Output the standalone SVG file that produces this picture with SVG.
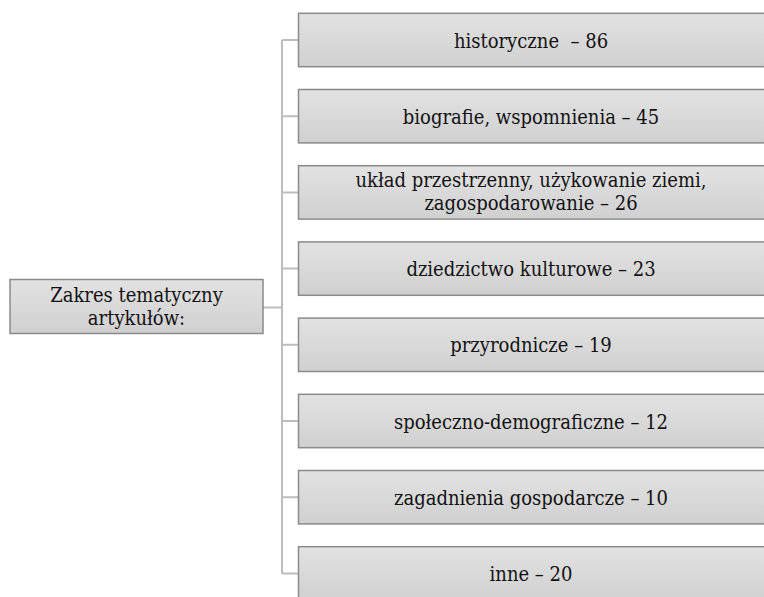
<svg xmlns="http://www.w3.org/2000/svg" width="764" height="597" viewBox="0 0 764 597">
<defs>
<linearGradient id="g" x1="0" y1="0" x2="0" y2="1">
<stop offset="0" stop-color="#e2e2e2"/>
<stop offset="1" stop-color="#d0d0d0"/>
</linearGradient>
<style>
.box{fill:url(#g);stroke:#8a8a8a;stroke-width:1.5}
.t{font-family:"DejaVu Serif",serif;font-stretch:condensed;font-size:20px;fill:#111;text-anchor:middle}
.c{fill:none;stroke:#bdbdbd;stroke-width:2}
</style>
</defs>
<rect width="764" height="597" fill="#fff"/>
<g id="connectors">
<path class="c" d="M263 307.5H282M282 40V573.5M282 40H298M282 116.2H298M282 192.4H298M282 268.6H298M282 344.8H298M282 421H298M282 497.2H298M282 573.4H298"/>
</g>
<g id="root">
<rect class="box" x="10" y="279.5" width="253" height="54"/>
<text class="t" x="136.5" y="302">Zakres tematyczny</text>
<text class="t" x="136.5" y="325">artykułów:</text>
</g>
<g id="n1">
<rect class="box" x="298.5" y="13.3" width="470" height="53.4"/>
<text class="t" x="531" y="47.5" xml:space="preserve">historyczne  – 86</text>
</g>
<g id="n2">
<rect class="box" x="298.5" y="89.5" width="470" height="53.4"/>
<text class="t" x="531" y="123.7">biografie, wspomnienia – 45</text>
</g>
<g id="n3">
<rect class="box" x="298.5" y="165.7" width="470" height="53.4"/>
<text class="t" x="531" y="187">układ przestrzenny, użykowanie ziemi,</text>
<text class="t" x="531" y="210">zagospodarowanie – 26</text>
</g>
<g id="n4">
<rect class="box" x="298.5" y="241.9" width="470" height="53.4"/>
<text class="t" x="531" y="276.1">dziedzictwo kulturowe – 23</text>
</g>
<g id="n5">
<rect class="box" x="298.5" y="318.1" width="470" height="53.4"/>
<text class="t" x="531" y="352.3">przyrodnicze – 19</text>
</g>
<g id="n6">
<rect class="box" x="298.5" y="394.3" width="470" height="53.4"/>
<text class="t" x="531" y="428.5">społeczno-demograficzne – 12</text>
</g>
<g id="n7">
<rect class="box" x="298.5" y="470.5" width="470" height="53.4"/>
<text class="t" x="531" y="504.7">zagadnienia gospodarcze – 10</text>
</g>
<g id="n8">
<rect class="box" x="298.5" y="546.7" width="470" height="53.4"/>
<text class="t" x="531" y="580.9">inne – 20</text>
</g>
</svg>
